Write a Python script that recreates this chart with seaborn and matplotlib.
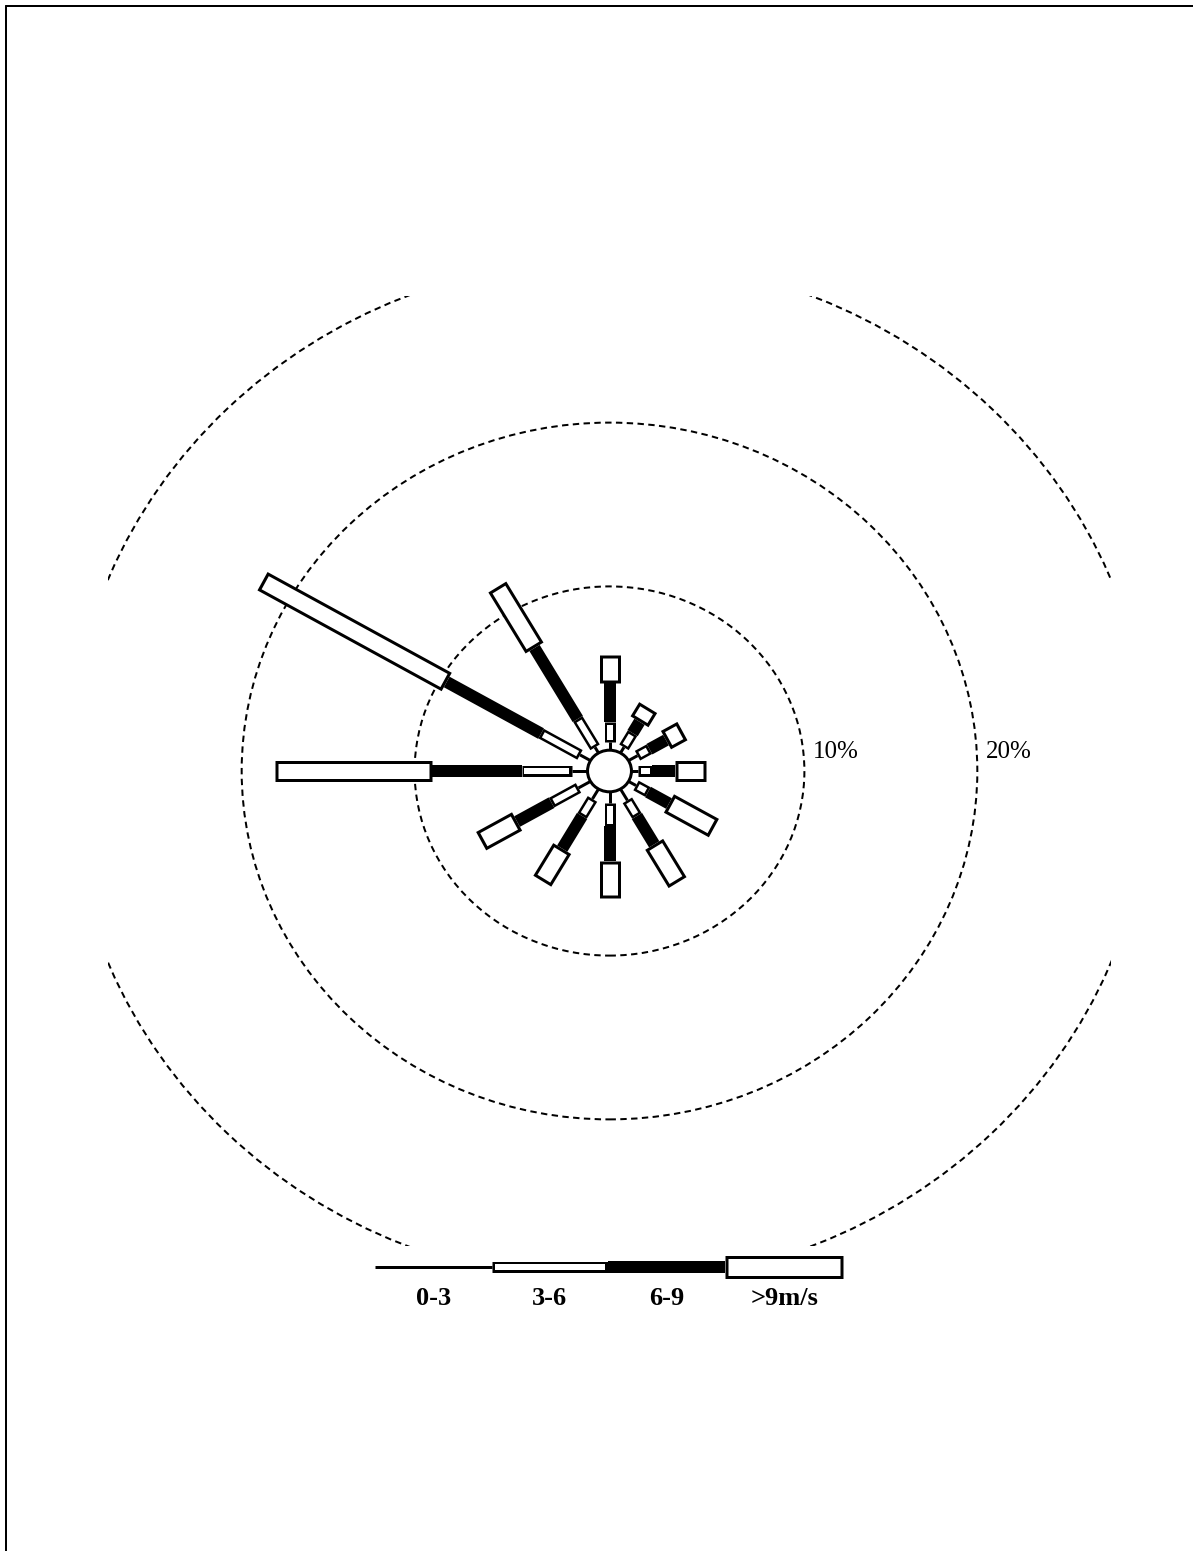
import numpy as np
import pandas as pd
import matplotlib
matplotlib.use("Agg")
import matplotlib.pyplot as plt
from matplotlib.patches import Circle
from matplotlib.lines import Line2D
import seaborn as sns

# wind directions, degrees clockwise from north
directions = [0, 30, 60, 90, 120, 150, 180, 210, 240, 270, 300, 330]
# frequency (%) of each wind speed class per direction
speed_0_3 = [0.5, 0.4, 0.6, 0.4, 0.5, 0.8, 0.7, 0.7, 0.8, 0.9, 0.7, 0.4]
speed_3_6 = [1.2, 1.0, 0.8, 0.8, 0.8, 1.1, 1.4, 1.2, 1.8, 2.9, 2.6, 2.0]
speed_6_9 = [2.4, 0.8, 1.1, 1.3, 1.4, 2.0, 2.1, 2.3, 2.3, 5.2, 6.3, 5.0]
speed_9 = [1.7, 1.0, 1.1, 1.8, 3.0, 2.7, 2.3, 2.3, 2.4, 9.1, 12.3, 4.3]

ring_levels = [10, 20, 30]
ring_labels = ['10%', '20%']
legend_labels = ['0-3', '3-6', '6-9', '>9m/s']

W_PX, H_PX, DPI = 1193, 1551, 100
PT = 72.0 / DPI          # points per pixel
CALM_R = 1.27            # radius of the calm circle (the 0% line)

sns.set_theme(style='white')
plt.rcParams['font.family'] = ['Liberation Serif', 'DejaVu Serif']
plt.rcParams['text.color'] = 'black'

fig = plt.figure(figsize=(W_PX / DPI, H_PX / DPI), dpi=DPI)
ax = fig.add_axes([108 / W_PX, 305 / H_PX, 1003 / W_PX, 950 / H_PX])

# cumulative radii of each class
c0 = np.full(len(directions), CALM_R)
c1 = c0 + np.array(speed_0_3)
c2 = c1 + np.array(speed_3_6)
c3 = c2 + np.array(speed_6_9)
c4 = c3 + np.array(speed_9)


def segments(start, end, inset=0.0):
    rows = []
    for i, d in enumerate(directions):
        t = np.deg2rad(d)
        for r in (start[i] + inset, end[i] - inset):
            rows.append({'dir': d, 'x': r * np.sin(t), 'y': r * np.cos(t)})
    return pd.DataFrame(rows)


def layer(df, color, width_px):
    sns.lineplot(data=df, x='x', y='y', units='dir', estimator=None, sort=False,
                 color=color, linewidth=width_px * PT, solid_capstyle='butt',
                 legend=False, ax=ax)


# dashed percentage rings
for lvl in ring_levels:
    ax.add_patch(Circle((0, 0), CALM_R + lvl, fill=False, edgecolor='black',
                        linewidth=2 * PT, linestyle=(0, (3.2, 2.2))))

# bars
layer(segments(c0, c1), 'black', 3)
layer(segments(c1, c2), 'black', 11)
layer(segments(c1, c2, 0.15), 'white', 6)
layer(segments(c2, c3), 'black', 12)
layer(segments(c3, c4), 'black', 21)
layer(segments(c3, c4, 0.18), 'white', 15)

ax.add_patch(Circle((0, 0), CALM_R, facecolor='white', edgecolor='black',
                    linewidth=3 * PT, zorder=5))

for lvl, lab in zip(ring_levels, ring_labels):
    ax.text(CALM_R + lvl + 0.5, 0.78, lab, fontsize=18, color='black',
            ha='left', va='baseline')

# legend strip below the rose
leg_edges = np.array([-13.56, -6.80, -0.09, 6.68, 13.52])
leg_y = -30.26
styles = [[('black', 3, 0)], [('black', 11, 0), ('white', 6, 0.15)],
          [('black', 12, 0)], [('black', 23, 0), ('white', 17, 0.18)]]
for i, st in enumerate(styles):
    for color, w, ins in st:
        ax.plot([leg_edges[i] + ins, leg_edges[i + 1] - ins], [leg_y, leg_y],
                color=color, linewidth=w * PT, solid_capstyle='butt', clip_on=False)
    ax.text((leg_edges[i] + leg_edges[i + 1]) / 2, -32.6, legend_labels[i],
            fontsize=19, fontweight='bold', color='black',
            ha='center', va='baseline')

ax.set_xlim(-29, 29)
ax.set_ylim(-29, 29)
ax.axis('off')

# page frame (top and left edges)
fig.add_artist(Line2D([6 / W_PX, 1], [1 - 6 / H_PX, 1 - 6 / H_PX],
                      transform=fig.transFigure, color='black', linewidth=2 * PT))
fig.add_artist(Line2D([6 / W_PX, 6 / W_PX], [0, 1 - 6 / H_PX],
                      transform=fig.transFigure, color='black', linewidth=2 * PT))

fig.savefig('out.png', dpi=DPI)
